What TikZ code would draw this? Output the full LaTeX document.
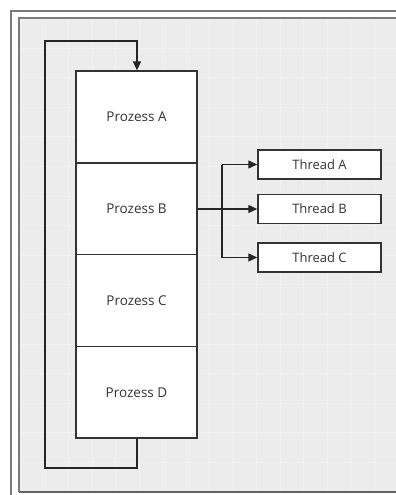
\documentclass[tikz,border=0pt]{standalone}
\usepackage{fontspec}
\setmainfont{Open Sans}
\usetikzlibrary{arrows.meta}
\definecolor{framegray}{HTML}{7A7A7A}
\definecolor{canvas}{HTML}{ECECEC}
\definecolor{gridline}{HTML}{F1F1F1}
\definecolor{boxline}{HTML}{333333}
\tikzset{
  proc/.style={draw=boxline, line width=1.5pt, fill=white, minimum width=121pt,
    minimum height=91.75pt, inner sep=0pt, font=\fontsize{13.5}{15}\selectfont, text=black!80},
  thr/.style={draw=boxline, line width=1.5pt, fill=white, minimum width=123pt,
    minimum height=29pt, inner sep=0pt, font=\fontsize{13}{15}\selectfont, text=black!80},
  link/.style={draw=black!85, line width=1.4pt},
  arr/.style={link, -{Triangle[length=9pt,width=8pt]}}
}
\begin{document}
\begin{tikzpicture}[x=1pt,y=-1pt]
\useasboundingbox (0,0) rectangle (396,495);
\fill[white] (0,0) rectangle (396,495);
% window frame and canvas
\fill[canvas] (19,18) rectangle (396,492);
\begin{scope}
  \clip (19,18) rectangle (396,492);
  \foreach \gx in {21.5,45,68.5,92,115.5,139,162.5,186,209.5,233,256.5,280,303.5,327,350.5,374}
    \draw[gridline, line width=0.7pt] (\gx,18) -- (\gx,492);
  \foreach \gy in {48,77.6,107.2,136.8,166.4,196,225.6,255.2,284.8,314.4,344,373.6,403.2,432.8,462.4}
    \draw[gridline, line width=0.7pt] (19,\gy) -- (396,\gy);
\end{scope}
\draw[framegray, line width=1.8pt] (11,495) -- (11,11) -- (396,11);
\draw[framegray, line width=1.4pt] (19,492) -- (19,18) -- (396,18);
\draw[framegray!80!black, line width=1.4pt] (19,492) -- (396,492);

% process stack
\node[proc] (pa) at (136.5,117)   {Prozess A};
\node[proc] (pb) at (136.5,208.75) {Prozess B};
\node[proc] (pc) at (136.5,300.5) {Prozess C};
\node[proc] (pd) at (136.5,392.25) {Prozess D};

% threads
\node[thr] (ta) at (319.5,164.5) {Thread A};
\node[thr] (tb) at (319.5,209)   {Thread B};
\node[thr] (tc) at (319.5,257.5) {Thread C};

% scheduler loop back to the top
\coordinate (l1) at (137,468);
\coordinate (l2) at (45,468);
\coordinate (l3) at (45,41);
\coordinate (l4) at (137,41);
\draw[arr] (pd.south -| l1) -- (l1) -- (l2) -- (l3) -- (l4) -- (pa.north -| l4);

% fan-out from process B to its threads
\coordinate (fork) at (222,209);
\draw[arr] (pb.east |- tb) -- (tb.west);
\draw[arr] (fork |- ta) -- (ta.west);
\draw[arr] (fork |- tc) -- (tc.west);
\draw[link] (fork |- ta) -- (fork |- tc);
\end{tikzpicture}
\end{document}
